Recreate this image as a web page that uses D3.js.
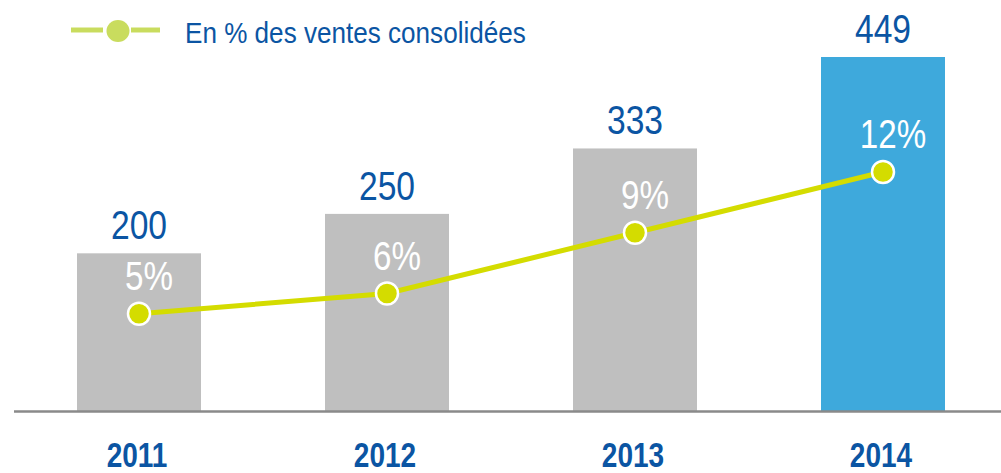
<!DOCTYPE html>
<html>
<head>
<meta charset="utf-8">
<script src="https://cdn.jsdelivr.net/npm/d3@7"></script>
<style>
  body { margin: 0; background: #fff; }
  text { font-family: "Liberation Sans", Arial, sans-serif; }
</style>
</head>
<body>
<div class="chart"></div>
<script>
var years = ["2011", "2012", "2013", "2014"],
    ventes = [200, 250, 333, 449],
    pourcents = [5, 6, 9, 12],
    legendLabel = "En % des ventes consolidées";

var width = 1001, height = 473,
    baseline = 411,
    narrow = 0.82;   // no Arial Narrow here, so squeeze Liberation Sans

var blueText = "#0b55a3",
    lineColor = "#d4dc00";

var svg = d3.select(".chart").append("svg")
    .attr("width", width)
    .attr("height", height);

var x = d3.scaleBand()
    .domain(years)
    .range([15, 1007])
    .paddingInner(0.5)
    .paddingOuter(0.25);

var y = d3.scaleLinear()
    .domain([0, d3.max(ventes)])
    .range([baseline, 57]);

// second axis for the percentage line
var y2 = d3.scaleLinear()
    .domain([0, 12])
    .range([415, 172]);

var data = years.map(function(d, i) {
  return {year: d, value: ventes[i], pct: pourcents[i]};
});

function cx(d) { return x(d.year) + x.bandwidth() / 2; }
function squeeze(tx, ty, s) {
  return "translate(" + tx + "," + ty + ") scale(" + (s || narrow) + ",1)";
}

// bars
svg.selectAll(".bar")
    .data(data)
  .enter().append("rect")
    .attr("class", "bar")
    .attr("x", function(d) { return x(d.year); })
    .attr("y", function(d) { return y(d.value); })
    .attr("width", x.bandwidth())
    .attr("height", function(d) { return baseline - y(d.value); })
    .style("fill", function(d, i) { return i == data.length - 1 ? "#3ea9dc" : "#bfbfbf"; });

// baseline
svg.append("line")
    .attr("x1", 14)
    .attr("x2", width)
    .attr("y1", baseline + 0.5)
    .attr("y2", baseline + 0.5)
    .style("stroke", "#8a8a8a")
    .style("stroke-width", 2.5);

// value labels
svg.selectAll(".value")
    .data(data)
  .enter().append("text")
    .attr("class", "value")
    .attr("transform", function(d) { return squeeze(cx(d), y(d.value) - 14); })
    .style("text-anchor", "middle")
    .style("font-size", "41px")
    .style("fill", blueText)
    .text(function(d) { return d.value; });

// x axis labels
svg.selectAll(".year")
    .data(data)
  .enter().append("text")
    .attr("class", "year")
    .attr("transform", function(d) { return squeeze(cx(d) - 2, 467, 0.8); })
    .style("text-anchor", "middle")
    .style("font-size", "35px")
    .style("font-weight", "bold")
    .style("fill", blueText)
    .text(function(d) { return d.year; });

// percentage line
var line = d3.line()
    .x(cx)
    .y(function(d) { return y2(d.pct); });

svg.append("path")
    .datum(data)
    .attr("d", line)
    .style("fill", "none")
    .style("stroke", lineColor)
    .style("stroke-width", 5);

svg.selectAll(".pt")
    .data(data)
  .enter().append("circle")
    .attr("class", "pt")
    .attr("cx", cx)
    .attr("cy", function(d) { return y2(d.pct); })
    .attr("r", 11)
    .style("fill", lineColor)
    .style("stroke", "#fff")
    .style("stroke-width", 2.5);

svg.selectAll(".pct")
    .data(data)
  .enter().append("text")
    .attr("class", "pct")
    .attr("transform", function(d) { return squeeze(cx(d) + 10, y2(d.pct) - 24, 0.83); })
    .style("text-anchor", "middle")
    .style("font-size", "40px")
    .style("fill", "#fff")
    .text(function(d) { return d.pct + "%"; });

// legend
var legend = svg.append("g")
    .attr("class", "legend");

legend.append("line")
    .attr("x1", 71).attr("x2", 103)
    .attr("y1", 30).attr("y2", 30)
    .style("stroke", "#c9dc5e")
    .style("stroke-width", 5);

legend.append("line")
    .attr("x1", 131).attr("x2", 160)
    .attr("y1", 30).attr("y2", 30)
    .style("stroke", "#c9dc5e")
    .style("stroke-width", 5);

legend.append("ellipse")
    .attr("cx", 118)
    .attr("cy", 31)
    .attr("rx", 11.5)
    .attr("ry", 11)
    .style("fill", "#c9dc5e");

legend.append("text")
    .attr("transform", squeeze(185, 43, 0.9))
    .style("font-size", "29px")
    .style("fill", blueText)
    .text(legendLabel);
</script>
</body>
</html>
